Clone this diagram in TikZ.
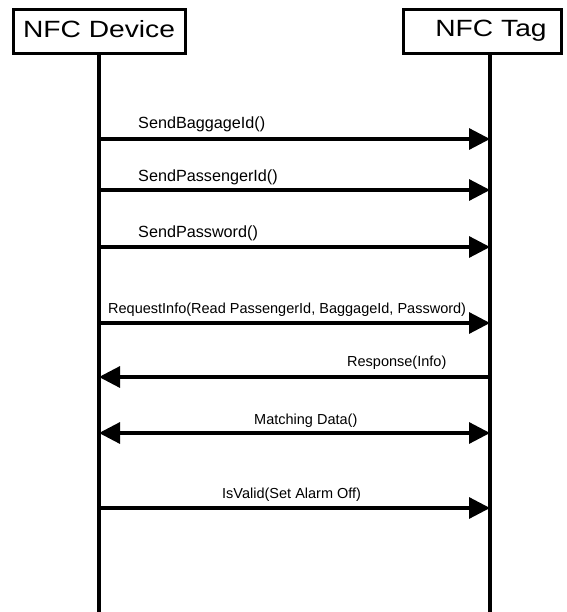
\documentclass[tikz,border=0pt]{standalone}
\usepackage{fontspec}
\setmainfont{Liberation Sans}
\newfontfamily\headfont[FakeStretch=1.2]{Liberation Sans}
\usepackage{tikz}
\usetikzlibrary{arrows.meta, positioning, calc}

\begin{document}
\begin{tikzpicture}[x=1pt, y=-1pt,
    headbox/.style={draw, line width=3pt, minimum height=44pt, inner sep=0pt},
    headtext/.style={font=\headfont\fontsize{23.5}{27}\selectfont, inner sep=0pt, anchor=base},
    lifeline/.style={line width=3.2pt},
    msg/.style={line width=3.2pt, -{Triangle[length=21pt, width=21pt]}},
    dmsg/.style={line width=3.2pt, {Triangle[length=21pt, width=21pt]}-{Triangle[length=21pt, width=21pt]}},
    bigtext/.style={font=\fontsize{16.2}{19}\selectfont, inner sep=0pt, anchor=base west},
    smalltext/.style={font=\fontsize{14.5}{17}\selectfont, inner sep=0pt, anchor=base west}]
  \useasboundingbox (0,0) rectangle (566,612);

  % Participants
  \node[headbox, minimum width=172pt] (dev) at (99,32) {};
  \node[headtext] (devname) at (99,38) {NFC Device};
  \node[headbox, minimum width=158pt] (tag) at (482,32) {};
  \node[headtext] (tagname) at (491,37) {NFC Tag};

  % Lifelines
  \coordinate (devtop) at (99,54);
  \coordinate (devend) at (99,612);
  \coordinate (tagtop) at (490,54);
  \coordinate (tagend) at (490,612);
  \draw[lifeline] (devtop) -- (devend);
  \draw[lifeline] (tagtop) -- (tagend);

  % Messages
  \node[bigtext] (baggage) at (138,129) {SendBaggageId()};
  \draw[msg] (devtop |- 0,139) -- (tagtop |- 0,139);

  \node[bigtext] (passenger) at (138,182) {SendPassengerId()};
  \draw[msg] (devtop |- 0,190) -- (tagtop |- 0,190);

  \node[bigtext] (password) at (138,237) {SendPassword()};
  \draw[msg] (devtop |- 0,247) -- (tagtop |- 0,247);

  \node[smalltext] (request) at (108,313) {RequestInfo(Read PassengerId, BaggageId, Password)};
  \draw[msg] (devtop |- 0,323) -- (tagtop |- 0,323);

  \node[smalltext] (response) at (347,366) {Response(Info)};
  \draw[msg] (tagtop |- 0,377) -- (devtop |- 0,377);

  \node[smalltext] (matching) at (254,424) {Matching Data()};
  \draw[dmsg] (devtop |- 0,433) -- (tagtop |- 0,433);

  \node[smalltext] (isvalid) at (222,498) {IsValid(Set Alarm Off)};
  \draw[msg] (devtop |- 0,508) -- (tagtop |- 0,508);
\end{tikzpicture}
\end{document}
